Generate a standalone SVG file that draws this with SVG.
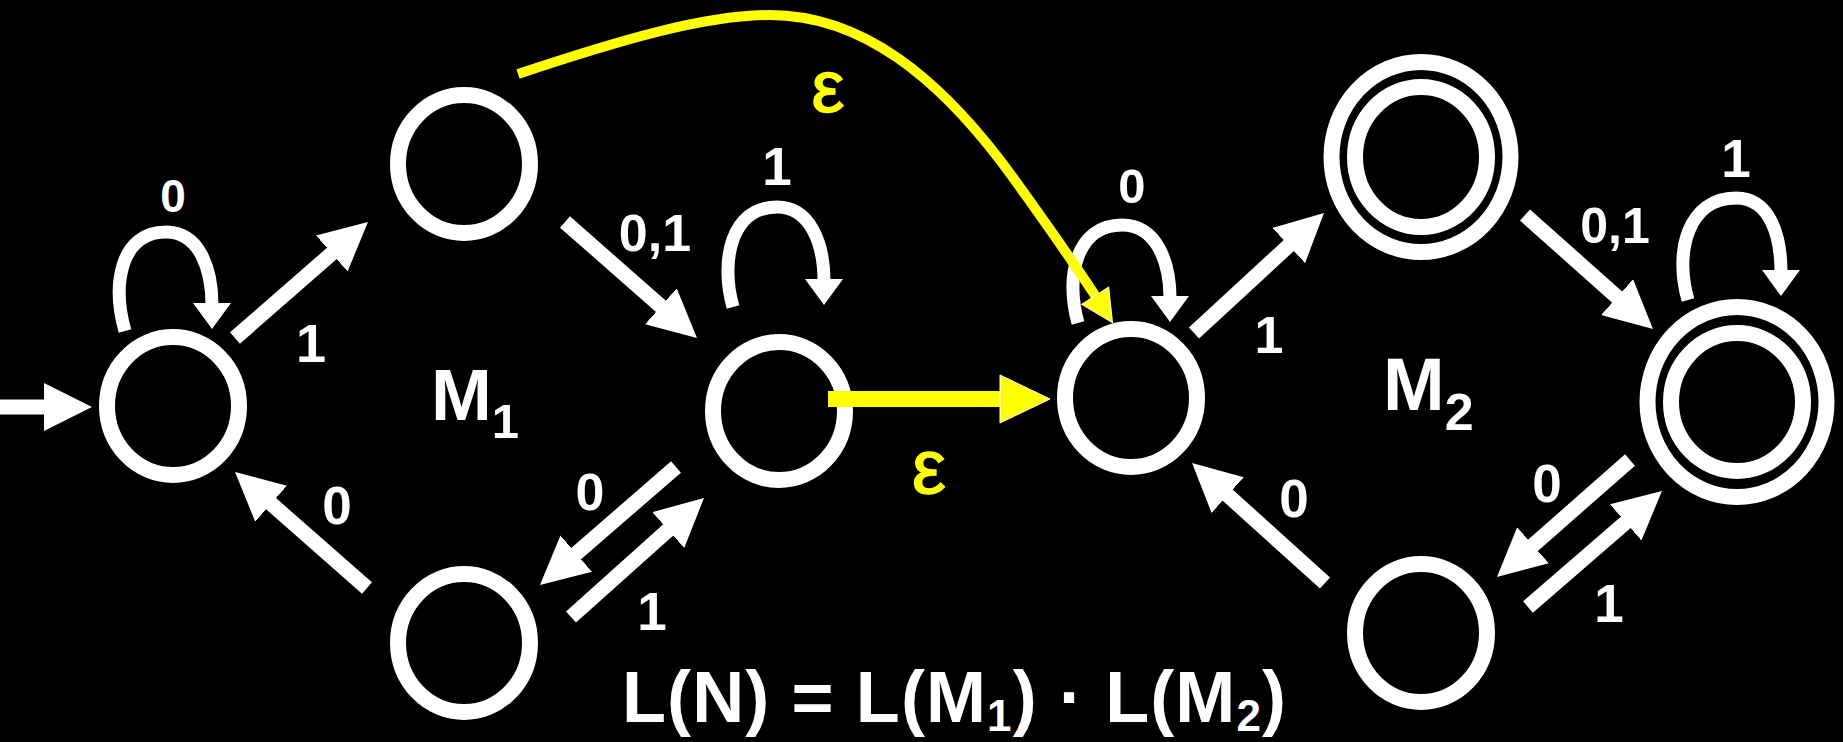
<svg xmlns="http://www.w3.org/2000/svg" width="1843" height="742" viewBox="0 0 1843 742">
<style>
.st{fill:none;stroke:#fff;stroke-width:16}
.ar{fill:none;stroke:#fff;stroke-width:15;marker-end:url(#ah)}
.lp{fill:none;stroke:#fff;stroke-width:13;marker-end:url(#lh)}
.lbl{font-family:"Liberation Sans",Arial,sans-serif;font-weight:bold;fill:#fff;text-anchor:middle}
.eps{font-family:"Liberation Sans",Arial,sans-serif;font-weight:normal;fill:#ffff00;stroke:#ffff00;stroke-width:1.5;text-anchor:middle}
</style>
<defs>
<marker id="ah" viewBox="0 0 48 48" markerWidth="48" markerHeight="48" refX="2" refY="24" orient="auto" markerUnits="userSpaceOnUse"><path d="M0,0 L48,24 L0,48 z" fill="#fff"/></marker>
<marker id="lh" viewBox="0 0 26 38" markerWidth="26" markerHeight="38" refX="2" refY="19" orient="auto" markerUnits="userSpaceOnUse"><path d="M0,0 L26,19 L0,38 z" fill="#fff"/></marker>
<marker id="yh" viewBox="-1 -1 52 50" markerWidth="52" markerHeight="50" refX="2" refY="24" orient="auto" markerUnits="userSpaceOnUse"><path d="M0,0 L50,24 L0,48 z" fill="#ffff00" stroke="#fff" stroke-width="1"/></marker>
<marker id="ych" viewBox="-1 -1 34 34" markerWidth="34" markerHeight="34" refX="2" refY="16" orient="auto" markerUnits="userSpaceOnUse"><path d="M0,0 L32,16 L0,32 z" fill="#ffff00" stroke="#fff" stroke-width="1"/></marker>
</defs>
<rect x="0" y="0" width="1843" height="742" fill="#000"/>
<g id="m1-q0"><ellipse class="st" cx="173" cy="406" rx="66" ry="69"/></g>
<g id="m1-q1"><ellipse class="st" cx="464" cy="164" rx="66" ry="69"/></g>
<g id="m1-q2"><ellipse class="st" cx="464" cy="643" rx="66" ry="69"/></g>
<g id="m1-q3"><ellipse class="st" cx="779" cy="411" rx="66" ry="69"/></g>
<g id="m2-p0"><ellipse class="st" cx="1131" cy="398" rx="66" ry="69"/></g>
<g id="m2-p1"><ellipse class="st" cx="1421" cy="157" rx="89.5" ry="95"/><ellipse class="st" cx="1421" cy="157" rx="66" ry="70"/></g>
<g id="m2-p2"><ellipse class="st" cx="1737" cy="402" rx="89.5" ry="95"/><ellipse class="st" cx="1737" cy="402" rx="66" ry="69"/></g>
<g id="m2-p3"><ellipse class="st" cx="1421" cy="633" rx="66" ry="69"/></g>
<g id="connectors">
<path class="ar" d="M0,407 L46,407"/>
<path class="ar" d="M235,338 L333.3,252.2"/>
<path class="ar" d="M565,222 L662.4,307.6"/>
<path class="ar" d="M367,588 L269.6,502.4"/>
<path class="ar" d="M676,467 L574.7,554.9"/>
<path class="ar" d="M571,617 L669.7,528.7"/>
<path class="ar" d="M1194,333 L1290.2,244.2"/>
<path class="ar" d="M1525,215 L1618.6,298.4"/>
<path class="ar" d="M1630,460 L1531.5,546.6"/>
<path class="ar" d="M1528,607 L1627.2,521.1"/>
<path class="ar" d="M1325,583 L1226.2,493.8"/>
<path class="lp" d="M125,331 C112,285 120,232 166,232 C200,232 212,270 212,305"/>
<path class="lp" d="M733,307 C720,261 731,207 777,207 C811,207 824,245 824,281"/>
<path class="lp" d="M1078,323 C1065,277 1076,225 1122,225 C1157,225 1170,263 1170,298"/>
<path class="lp" d="M1688,300 C1674,252 1688,198 1736,198 C1771,198 1781,238 1781,272"/>
<path d="M828,399 L1002,399" fill="none" stroke="#ffff00" stroke-width="16" marker-end="url(#yh)"/>
<path d="M518,74 C620,40 705,15 770,15 C865,15 940,82 1000,160 C1030,200 1080,272 1096.3,297.4" fill="none" stroke="#ffff00" stroke-width="10" marker-end="url(#ych)"/>
</g>
<g id="labels">
<text class="lbl" x="173" y="212" font-size="46">0</text>
<text class="lbl" x="311" y="362" font-size="54">1</text>
<text class="lbl" x="337" y="524" font-size="53">0</text>
<text class="lbl" x="655" y="251" font-size="52">0,1</text>
<text class="lbl" x="777" y="185" font-size="53">1</text>
<text class="lbl" x="590" y="510" font-size="52">0</text>
<text class="lbl" x="652" y="630" font-size="53">1</text>
<text class="lbl" x="1132" y="203" font-size="49">0</text>
<text class="lbl" x="1269" y="353" font-size="52">1</text>
<text class="lbl" x="1615" y="243" font-size="50">0,1</text>
<text class="lbl" x="1736" y="177" font-size="53">1</text>
<text class="lbl" x="1294" y="517" font-size="53">0</text>
<text class="lbl" x="1547" y="502" font-size="53">0</text>
<text class="lbl" x="1609" y="622" font-size="53">1</text>
<text class="eps" x="828" y="112" font-size="74">ε</text>
<text class="eps" x="929" y="493" font-size="76">ε</text>
<text class="lbl" x="431" y="420" font-size="73" style="text-anchor:start">M<tspan font-size="49" dy="18">1</tspan></text>
<text class="lbl" x="1383" y="410" font-size="74" style="text-anchor:start">M<tspan font-size="52" dy="20">2</tspan></text>
<text class="lbl" x="622" y="722" font-size="72" style="text-anchor:start" textLength="664" lengthAdjust="spacing">L(N) = L(M<tspan font-size="44" dy="9">1</tspan><tspan dy="-9">) · L(M</tspan><tspan font-size="44" dy="9">2</tspan><tspan dy="-9">)</tspan></text>
</g>
</svg>
